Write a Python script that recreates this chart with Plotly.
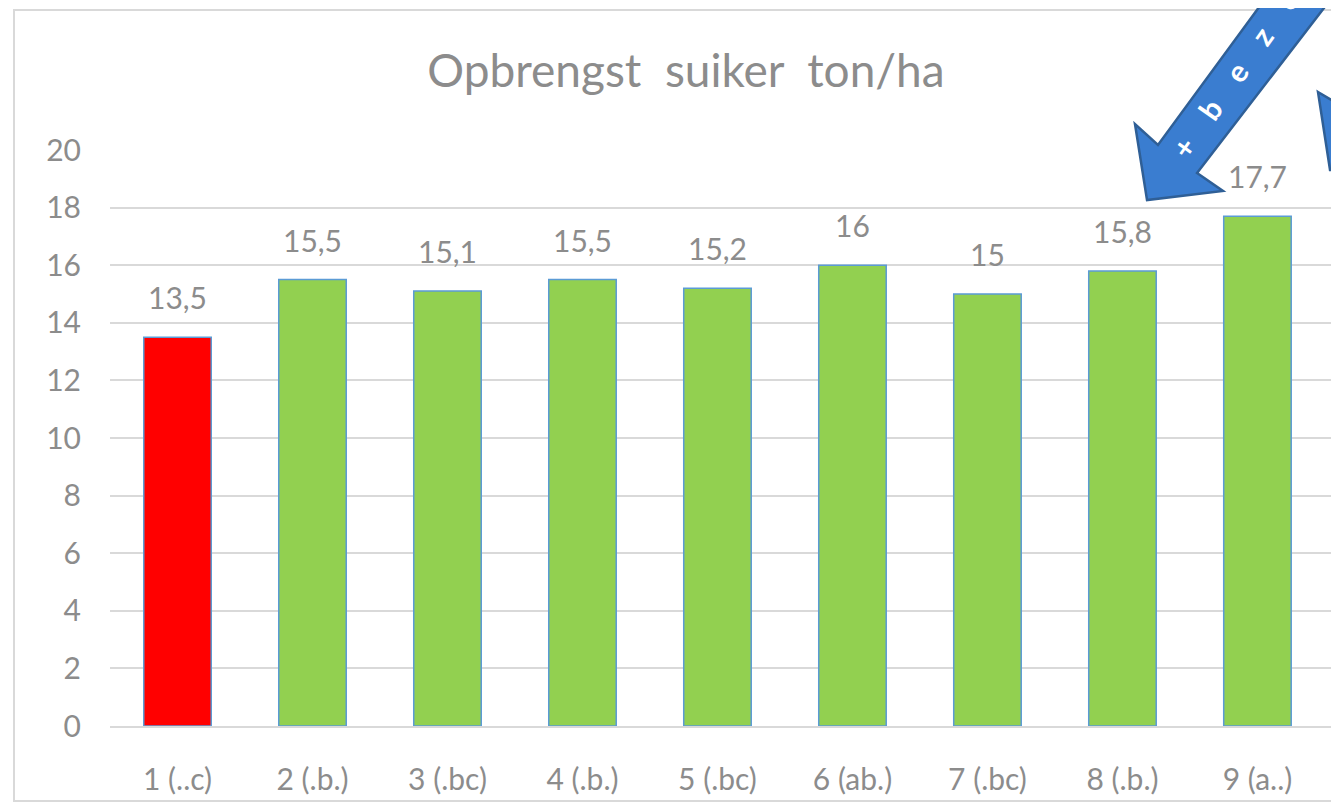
import plotly.graph_objects as go

categories = ["1 (..c)", "2 (.b.)", "3 (.bc)", "4 (.b.)", "5 (.bc)",
              "6 (ab.)", "7 (.bc)", "8 (.b.)", "9 (a..)"]
sugar_yield = [13.5, 15.5, 15.1, 15.5, 15.2, 16, 15, 15.8, 17.7]
bar_colors = ["#FF0000"] + ["#92D050"] * 8

OFF = 8  # the page body has an 8px margin
W, H = 1339 - OFF, 803 - OFF
L, R, T, B = 110 - OFF, 0, 150 - OFF, 77
grey = "#8C8C8C"
font = "Lato, 'Open Sans', sans-serif"


def px(x, y):
    # page pixels -> paper coordinates of the plot area
    x, y = x - OFF, y - OFF
    return (x - L) / (W - L - R), (H - B - y) / (H - T - B)


def path(points):
    pts = [px(x, y) for x, y in points]
    return "M " + " L ".join(f"{a:.4f},{b:.4f}" for a, b in pts) + " Z"


fig = go.Figure(go.Bar(
    x=categories, y=sugar_yield,
    marker=dict(color=bar_colors, line=dict(color="#5B9BD5", width=1.5)),
    width=0.5,
))

labels = [dict(x=c, y=v, text=f"{v:g}".replace(".", ","), showarrow=False,
               yanchor="bottom", yshift=20,
               font=dict(size=30, color=grey, family=font))
          for c, v in zip(categories, sugar_yield)]

shapes = [
    # chart frame
    dict(type="rect", xref="paper", yref="paper",
         x0=px(14, 0)[0], x1=px(1360, 0)[0], y0=px(0, 801)[1], y1=px(0, 10)[1],
         line=dict(color="#D9D9D9", width=2), fillcolor="rgba(0,0,0,0)", layer="below"),
    # big blue arrow
    dict(type="path", xref="paper", yref="paper",
         path=path([(1147, 200), (1135, 124), (1158, 145), (1268, -5), (1334, -5),
                    (1197, 173), (1223, 191)]),
         fillcolor="#3A7DD0", line=dict(color="#2F5F96", width=2.5)),
    # second arrow, cut off at the right edge
    dict(type="path", xref="paper", yref="paper",
         path=path([(1318, 92), (1345, 108), (1345, 170), (1330, 170)]),
         fillcolor="#3A7DD0", line=dict(color="#2F5F96", width=2.5)),
]

arrow_text = dict(text="+    b    e    z    o", xref="paper", yref="paper",
                  x=px(1235, 73)[0], y=px(1235, 73)[1], showarrow=False,
                  xanchor="center", yanchor="middle", textangle=-55,
                  font=dict(size=30, color="white", family=font, weight="bold"))

fig.update_layout(
    width=W, height=H,
    margin=dict(l=L, r=R, t=T, b=B),
    paper_bgcolor="white", plot_bgcolor="white",
    showlegend=False,
    title=dict(text="Opbrengst  suiker  ton/ha", x=(686 - OFF) / W, xanchor="center",
               y=1 - (71 - OFF) / H, yanchor="middle",
               font=dict(size=46, color=grey, family=font)),
    shapes=shapes,
    annotations=labels + [arrow_text],
)
fig.update_xaxes(range=[-0.5, 8.604], showgrid=False, showline=True,
                 linecolor="#D9D9D9", linewidth=2, ticks="", ticklabelstandoff=26,
                 tickfont=dict(size=30, color=grey, family=font))
fig.update_yaxes(range=[0, 20], dtick=2, showgrid=True, gridcolor="#D9D9D9",
                 gridwidth=2, zeroline=False, ticks="", ticklabelstandoff=28,
                 tickfont=dict(size=30, color=grey, family=font))

fig.write_html("out.html")
